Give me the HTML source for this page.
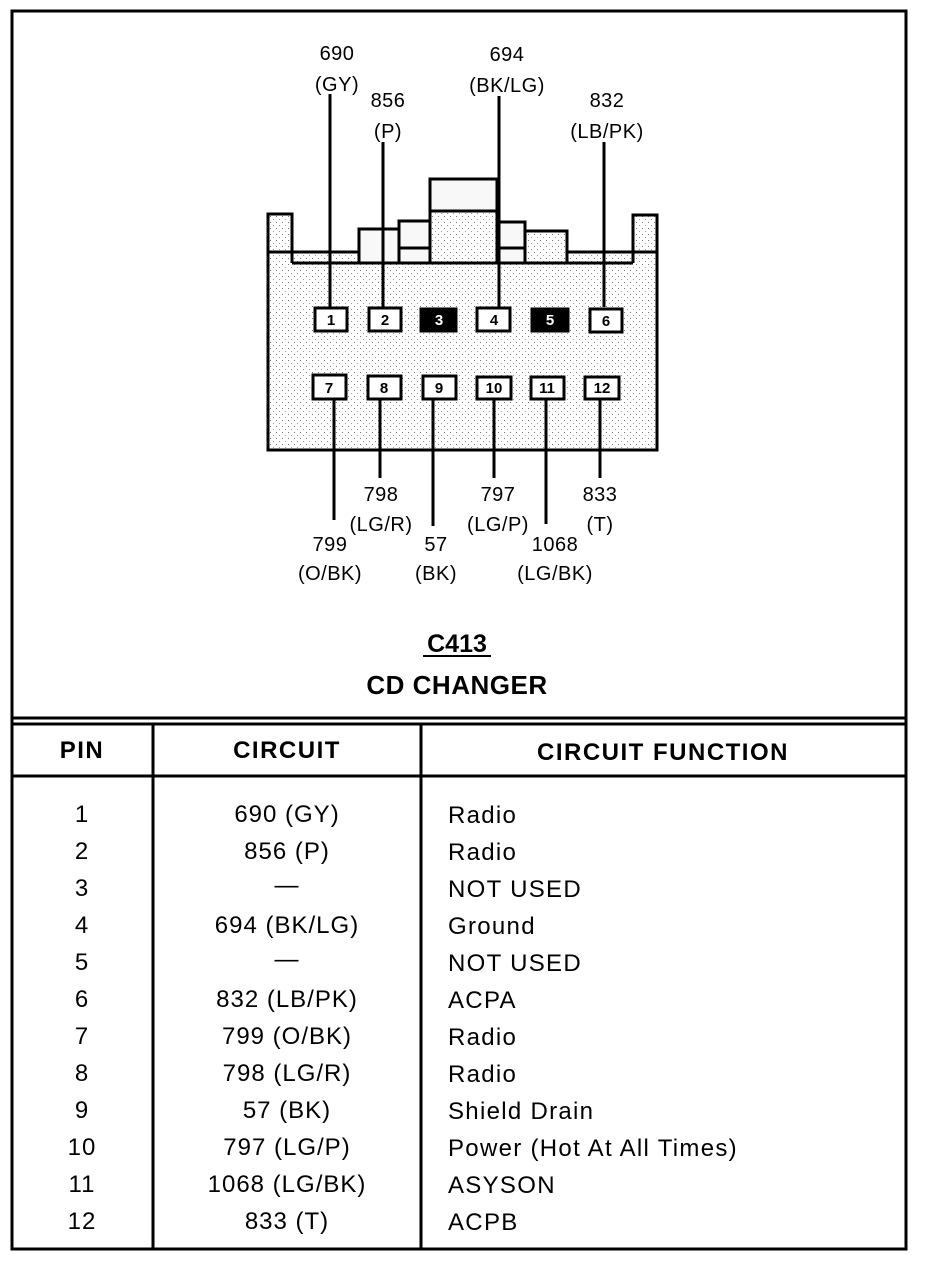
<!DOCTYPE html>
<html><head><style>html,body{margin:0;padding:0;background:#fff}</style></head><body>
<svg width="928" height="1260" viewBox="0 0 928 1260" xmlns="http://www.w3.org/2000/svg" font-family="Liberation Sans, Arial, sans-serif">
<defs>
<pattern id="dots" width="6" height="6" patternUnits="userSpaceOnUse">
<rect width="6" height="6" fill="#fff"/><rect x="0" y="0" width="1" height="1" fill="#777"/><rect x="3" y="3" width="1" height="1" fill="#999"/>
</pattern>
</defs>
<rect x="12" y="11" width="894" height="1238" fill="none" stroke="#000" stroke-width="3"/>
<line x1="12" y1="718" x2="906" y2="718" stroke="#000" stroke-width="3"/>
<g stroke="#000" stroke-width="3" fill="url(#dots)">
<rect x="268" y="252" width="389" height="198"/>
<rect x="268" y="214" width="24" height="38"/>
<rect x="633" y="215" width="24" height="37"/>
<rect x="430" y="179" width="67" height="32" fill="#f8f8f8"/>
<rect x="430" y="211" width="67" height="52"/>
<rect x="359" y="229" width="40" height="34" fill="#f8f8f8"/>
<rect x="399" y="221" width="31" height="42" fill="#f8f8f8"/>
<rect x="497" y="222" width="28" height="41" fill="#f8f8f8"/>
<rect x="525" y="231" width="42" height="32"/>
</g>
<g stroke="#000" stroke-width="3">
<line x1="292" y1="263" x2="633" y2="263"/>
<line x1="292" y1="252" x2="292" y2="263"/>
<line x1="633" y1="252" x2="633" y2="263"/>
<line x1="399" y1="248" x2="430" y2="248"/>
<line x1="497" y1="248" x2="525" y2="248"/>
<line x1="330" y1="94" x2="330" y2="307"/>
<line x1="383" y1="142" x2="383" y2="307"/>
<line x1="499" y1="96" x2="499" y2="307"/>
<line x1="604" y1="142" x2="604" y2="307"/>
<line x1="334" y1="400" x2="334" y2="520"/>
<line x1="380" y1="400" x2="380" y2="478"/>
<line x1="433" y1="400" x2="433" y2="526"/>
<line x1="494" y1="400" x2="494" y2="478"/>
<line x1="546" y1="400" x2="546" y2="524"/>
<line x1="600" y1="400" x2="600" y2="478"/>
</g>
<g stroke="#000" stroke-width="3" fill="#fff">
<rect x="315" y="308" width="32" height="23"/>
<rect x="369" y="308" width="32" height="23"/>
<rect x="421" y="309" width="35" height="22" fill="#000"/>
<rect x="477" y="308" width="33" height="23"/>
<rect x="532" y="309" width="36" height="22" fill="#000"/>
<rect x="590" y="309" width="32" height="23"/>
<rect x="313" y="375" width="33" height="24"/>
<rect x="368" y="376" width="33" height="23"/>
<rect x="423" y="376" width="33" height="23"/>
<rect x="477" y="377" width="34" height="22"/>
<rect x="531" y="377" width="33" height="22"/>
<rect x="585" y="377" width="34" height="22"/>
</g>
<g font-size="15" font-weight="bold" text-anchor="middle">
<text x="331" y="325">1</text><text x="385" y="325">2</text><text x="439" y="325" fill="#fff">3</text>
<text x="494" y="325">4</text><text x="550" y="325" fill="#fff">5</text><text x="606" y="326">6</text>
<text x="329" y="393">7</text><text x="384" y="393">8</text><text x="439" y="393">9</text>
<text x="494" y="393">10</text><text x="547" y="393">11</text><text x="602" y="393">12</text>
</g>
<g font-size="20" text-anchor="middle" letter-spacing="0.5">
<text x="337" y="60">690</text><text x="337" y="91">(GY)</text>
<text x="388" y="107">856</text><text x="388" y="138">(P)</text>
<text x="507" y="61">694</text><text x="507" y="92">(BK/LG)</text>
<text x="607" y="107">832</text><text x="607" y="138">(LB/PK)</text>
<text x="381" y="501">798</text><text x="381" y="531">(LG/R)</text>
<text x="330" y="551">799</text><text x="330" y="580">(O/BK)</text>
<text x="436" y="551">57</text><text x="436" y="580">(BK)</text>
<text x="498" y="501">797</text><text x="498" y="531">(LG/P)</text>
<text x="555" y="551">1068</text><text x="555" y="580">(LG/BK)</text>
<text x="600" y="501">833</text><text x="600" y="531">(T)</text>
</g>
<g font-weight="bold" text-anchor="middle">
<text x="457" y="652" font-size="25">C413</text>
<line x1="423" y1="656" x2="491" y2="656" stroke="#000" stroke-width="2"/>
<text x="457" y="694" font-size="26" letter-spacing="0.5">CD CHANGER</text>
</g>
<g stroke="#000" stroke-width="3">
<line x1="12" y1="724" x2="906" y2="724"/>
<line x1="12" y1="776" x2="906" y2="776"/>
<line x1="153" y1="724" x2="153" y2="1249"/>
<line x1="421" y1="724" x2="421" y2="1249"/>
</g>
<g font-size="24" font-weight="bold" text-anchor="middle" letter-spacing="1.5">
<text x="82" y="758">PIN</text><text x="287" y="758">CIRCUIT</text><text x="663" y="760">CIRCUIT FUNCTION</text>
</g>
<g font-size="24" letter-spacing="1">
<g text-anchor="middle">
<text x="82" y="822">1</text><text x="82" y="859">2</text><text x="82" y="896">3</text><text x="82" y="933">4</text>
<text x="82" y="970">5</text><text x="82" y="1007">6</text><text x="82" y="1044">7</text><text x="82" y="1081">8</text>
<text x="82" y="1118">9</text><text x="82" y="1155">10</text><text x="82" y="1192">11</text><text x="82" y="1229">12</text>
<text x="287" y="822">690 (GY)</text><text x="287" y="859">856 (P)</text><text x="287" y="893">—</text>
<text x="287" y="933">694 (BK/LG)</text><text x="287" y="967">—</text><text x="287" y="1007">832 (LB/PK)</text>
<text x="287" y="1044">799 (O/BK)</text><text x="287" y="1081">798 (LG/R)</text><text x="287" y="1118">57 (BK)</text>
<text x="287" y="1155">797 (LG/P)</text><text x="287" y="1192">1068 (LG/BK)</text><text x="287" y="1229">833 (T)</text>
</g>
<g letter-spacing="1.3">
<text x="448" y="823">Radio</text><text x="448" y="860">Radio</text><text x="448" y="897">NOT USED</text>
<text x="448" y="934">Ground</text><text x="448" y="971">NOT USED</text><text x="448" y="1008">ACPA</text>
<text x="448" y="1045">Radio</text><text x="448" y="1082">Radio</text><text x="448" y="1119">Shield Drain</text>
<text x="448" y="1156">Power (Hot At All Times)</text><text x="448" y="1193">ASYSON</text><text x="448" y="1230">ACPB</text>
</g>
</g>
</svg>
</body></html>
